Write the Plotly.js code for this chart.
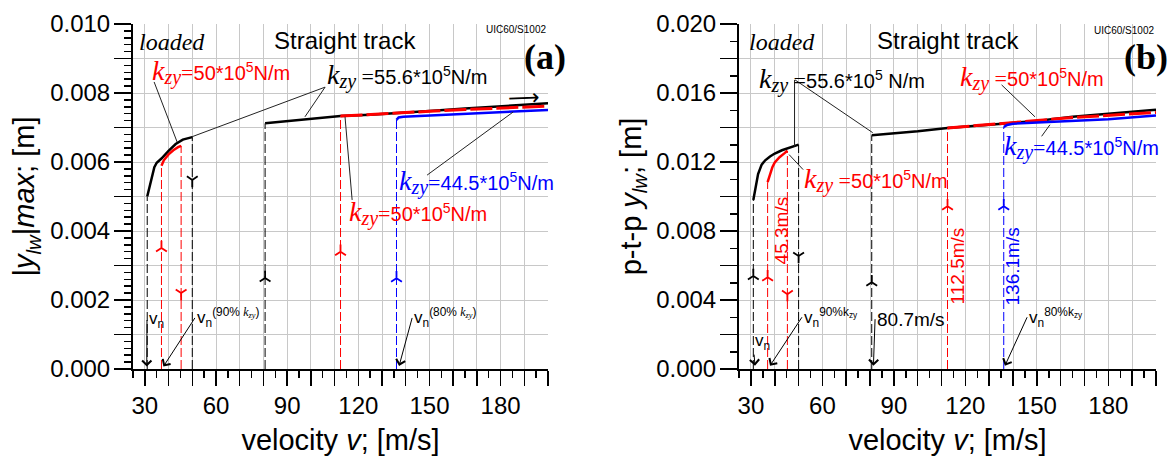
<!DOCTYPE html>
<html><head><meta charset="utf-8">
<script src="https://cdn.plot.ly/plotly-3.0.1.min.js"></script>
<style>body{margin:0;padding:0;background:#fff}#chart{width:1173px;height:462px}</style>
</head><body><div id="chart"></div>
<script>
// ---------- ticks: grid/tick positions and labelled ticks ----------
const xGridVals  = [30,40,50,60,70,80,90,100,110,120,130,140,150,160,170,180,190,200];
const xLabelVals = [30,60,90,120,150,180];
const xLabelText = ['30','60','90','120','150','180'];
const yAGridVals  = [0,0.001,0.002,0.003,0.004,0.005,0.006,0.007,0.008,0.009,0.010];
const yALabelVals = [0,0.002,0.004,0.006,0.008,0.010];
const yALabelText = ['0.000','0.002','0.004','0.006','0.008','0.010'];
const yBGridVals  = [0,0.002,0.004,0.006,0.008,0.010,0.012,0.014,0.016,0.018,0.020];
const yBLabelVals = [0,0.004,0.008,0.012,0.016,0.020];
const yBLabelText = ['0.000','0.004','0.008','0.012','0.016','0.020'];

// ---------- panel (a): |y_lw|max ----------
const vA_black1 = [31, 32, 33, 34, 35, 37, 40, 43, 46, 50];
const yA_black1 = [0.0050, 0.0053, 0.0056, 0.00585, 0.00598, 0.0061, 0.00632, 0.00652, 0.00665, 0.00672];
const vA_red1   = [37, 38, 40, 42, 44, 45.3];
const yA_red1   = [0.00589, 0.00605, 0.00622, 0.00634, 0.00643, 0.00647];
const vA_black2 = [80.7, 90, 100, 112.5, 125, 136.1, 150, 165, 180, 200];
const yA_black2 = [0.00712, 0.00718, 0.00724, 0.00733, 0.00737, 0.00741, 0.00748, 0.00755, 0.00761, 0.0077];
const vA_red2   = [112.5, 125, 136.1, 150, 165, 180, 200];
const yA_red2   = [0.00733, 0.00737, 0.00741, 0.00747, 0.00752, 0.00757, 0.00762];
const vA_blue   = [136.1, 137, 139, 145, 160, 180, 200];
const yA_blue   = [0.00722, 0.00729, 0.00731, 0.00733, 0.00738, 0.00744, 0.00751];

// ---------- panel (b): p-t-p y_lw ----------
const vB_black1 = [31, 32, 33, 34.5, 36, 38, 40, 43, 46, 50];
const yB_black1 = [0.0098, 0.0106, 0.0113, 0.01185, 0.0121, 0.01232, 0.01249, 0.01268, 0.01282, 0.01301];
const vB_red1   = [37, 38, 39, 40, 42, 44, 45.3];
const yB_red1   = [0.01083, 0.0113, 0.0117, 0.01198, 0.01228, 0.0125, 0.01265];
const vB_black2 = [80.7, 90, 100, 112.5, 125, 136.1, 150, 165, 180, 200];
const yB_black2 = [0.01355, 0.01365, 0.01378, 0.01397, 0.0141, 0.01422, 0.01438, 0.01463, 0.0148, 0.01503];
const vB_red2   = [112.5, 125, 136.1, 150, 165, 180, 200];
const yB_red2   = [0.01397, 0.0141, 0.01422, 0.0144, 0.01458, 0.01472, 0.01487];
const vB_blue   = [136.1, 137.5, 140, 150, 165, 180, 200];
const yB_blue   = [0.01403, 0.01415, 0.01422, 0.01428, 0.01437, 0.01448, 0.0147];

// ---------- critical speeds (vertical dashed markers) ----------
const vCrit    = [31, 37, 45.3, 50, 80.7, 112.5, 136.1];
const critTopA = [0.0050, 0.00589, 0.00647, 0.00672, 0.00712, 0.00733, 0.00722];
const critTopB = [0.0098, 0.01083, 0.01265, 0.01301, 0.01355, 0.01397, 0.01403];

// ---------- styles ----------
const RED = '#ff0000', BLUE = '#0000ff', BLK = '#000000';
const critColor = [BLK, RED, RED, BLK, BLK, RED, BLUE];
const SANS = 'Liberation Sans, Arial, sans-serif';
const SERIF = 'Liberation Serif, Times New Roman, serif';

function line(v, y, color, width, dash, xa, ya) {
  return {x: v, y: y, xaxis: xa, yaxis: ya, mode: 'lines', type: 'scatter',
          line: {color: color, width: width, dash: dash || 'solid'}, hoverinfo: 'skip'};
}
const traces = [];
// chevrons: [critical-speed index, tip height, 'up'|'down']
function panel(xa, ya, oxa, oya, d, tops, chevrons) {
  vCrit.forEach((v, i) => traces.push(line([v, v], [0, tops[i]], critColor[i], 1, '9px,3px', oxa, oya)));
  traces.push(line(d.b1v, d.b1y, BLK, 2.5, null, xa, ya));
  traces.push(line(d.r1v, d.r1y, RED, 2.5, null, xa, ya));
  traces.push(line(d.b2v, d.b2y, BLK, 2.5, null, xa, ya));
  traces.push(line(d.r2v, d.r2y, RED, 3, '22px,4px', xa, ya));
  traces.push(line(d.blv, d.bly, BLUE, 2.5, null, xa, ya));
  traces.push({x: chevrons.map(c => vCrit[c[0]]), y: chevrons.map(c => c[1]), xaxis: oxa, yaxis: oya,
    type: 'scatter', mode: 'markers', hoverinfo: 'skip', cliponaxis: false,
    marker: {symbol: chevrons.map(c => c[2] === 'up' ? 'y-up' : 'y-down'), size: 9,
             color: chevrons.map(c => critColor[c[0]]),
             line: {color: chevrons.map(c => critColor[c[0]]), width: 1.8}}});
}
panel('x', 'y', 'x3', 'y3', {b1v: vA_black1, b1y: yA_black1, r1v: vA_red1, r1y: yA_red1, b2v: vA_black2, b2y: yA_black2,
                 r2v: vA_red2, r2y: yA_red2, blv: vA_blue, bly: yA_blue}, critTopA,
      [[1, 0.00351, 'up'], [2, 0.0022, 'down'], [3, 0.00548, 'down'], [4, 0.00264, 'up'], [5, 0.0034, 'up'], [6, 0.00263, 'up']]);
panel('x2', 'y2', 'x4', 'y4', {b1v: vB_black1, b1y: yB_black1, r1v: vB_red1, r1y: yB_red1, b2v: vB_black2, b2y: yB_black2,
                 r2v: vB_red2, r2y: yB_red2, blv: vB_blue, bly: yB_blue}, critTopB,
      [[0, 0.00539, 'up'], [1, 0.00532, 'up'], [2, 0.00434, 'down'], [3, 0.00655, 'down'], [4, 0.00503, 'up'], [5, 0.00944, 'up'], [6, 0.00944, 'up']]);

// ---------- axes ----------
const common = {ticks: 'outside', tickwidth: 1.5, zeroline: false, automargin: false, fixedrange: true,
                tickfont: {size: 24, family: SANS, color: BLK}};
function xGrid(domain, anchor) {   // unlabelled axis: line, grid, long + short ticks
  return Object.assign({}, common, {domain: domain, anchor: anchor, range: [25, 200], tickmode: 'array', tickvals: xGridVals,
    showticklabels: false, ticklen: 15, tickcolor: BLK, showgrid: true, gridcolor: '#c8c8c8', gridwidth: 1,
    showline: true, linecolor: BLK, linewidth: 2,
    minor: {tickmode: 'linear', tick0: 0, dtick: 5, ticks: 'outside', ticklen: 7, tickwidth: 1.5, tickcolor: BLK, showgrid: false}});
}
function xLab(over, anchor) {      // labelled overlay axis with title
  return Object.assign({}, common, {overlaying: over, anchor: anchor, range: [25, 200], tickmode: 'array',
    tickvals: xLabelVals, ticktext: xLabelText, ticklen: 15, tickcolor: 'rgba(0,0,0,0)', showgrid: false, showline: false,
    title: {text: 'velocity <i>v</i>; [m/s]', font: {size: 29, family: SANS, color: BLK}, standoff: 11}});
}
function yGrid(anchor, top, vals, mdt) {
  return Object.assign({}, common, {domain: [0, 1], anchor: anchor, range: [0, top], tickmode: 'array', tickvals: vals,
    showticklabels: false, ticklen: 17, tickcolor: BLK, showgrid: true, gridcolor: '#c8c8c8', gridwidth: 1,
    showline: true, linecolor: BLK, linewidth: 2,
    minor: {tickmode: 'linear', tick0: 0, dtick: mdt, ticks: 'outside', ticklen: 7, tickwidth: 1.5, tickcolor: BLK, showgrid: false}});
}
function yLab(over, anchor, top, vals, txt, title) {
  return Object.assign({}, common, {overlaying: over, anchor: anchor, range: [0, top], tickmode: 'array',
    tickvals: vals, ticktext: txt, ticklen: 17, tickcolor: 'rgba(0,0,0,0)', showgrid: false, showline: false,
    title: {text: title, font: {size: 29, family: SANS, color: BLK}, standoff: 6}});
}

// ---------- annotation helpers ----------
function kzy(val, sp) {
  return "<span style=\"font-family:'Liberation Serif';font-style:italic;font-size:28px\">k</span>" +
         "<sub><span style=\"font-family:'Liberation Serif';font-style:italic;font-size:20px\">zy</span></sub>" +
         "<span style=\"font-family:'Liberation Serif';font-size:22px\">" + sp + "=</span>" + val;
}
const ann = [];
function txt(xa, ya, x, y, text, color, size, opts) {
  ann.push(Object.assign({xref: xa, yref: ya, x: x, y: y, text: text, showarrow: false, xanchor: 'left', yanchor: 'middle',
    font: {size: size, color: color, family: SANS}}, opts || {}));
}
// label with an arrow: text box left edge at (tx,ty), arrow head at (hx,hy)
function callout(xa, ya, tx, ty, hx, hy, text, size) {
  ann.push({xref: xa, yref: ya, axref: xa, ayref: ya, x: hx, y: hy, ax: tx, ay: ty, text: text, showarrow: true,
    xanchor: 'left', yanchor: 'middle', arrowhead: 4, arrowsize: 1.8, arrowwidth: 1, arrowcolor: BLK,
    font: {size: size, color: BLK, family: SANS}});
}
const shapes = [];
function seg(xa, ya, x0, y0, x1, y1) {
  shapes.push({type: 'line', xref: xa, yref: ya, x0: x0, y0: y0, x1: x1, y1: y1, line: {color: '#222', width: 1}});
}
const SUPK = (p) => "v<sub>n</sub><sup>(" + p + " <span style=\"font-family:'Liberation Serif';font-style:italic\">k<sub>zy</sub></span>)</sup>";

// panel (a) texts
txt('x', 'y', 25.8, 0.0102, 'freight car', BLK, 10);
txt('x', 'y', 26.7, 0.00948, '<i>loaded</i>', BLK, 24, {font: {size: 24, color: BLK, family: SERIF}});
txt('x', 'y', 83.6, 0.00951, 'Straight track', BLK, 24);
txt('x', 'y', 200, 0.00983, 'UIC60/S1002', BLK, 10, {xanchor: 'right'});
txt('x', 'y', 32.2, 0.00861, kzy('50*10<sup>5</sup>N/m', ''), RED, 20);
txt('x', 'y', 106, 0.00849, kzy('55.6*10<sup>5</sup>N/m', ' '), BLK, 20);
txt('x', 'y', 115.3, 0.00452, kzy('50*10<sup>5</sup>N/m', ''), RED, 20);
txt('x', 'y', 136.3, 0.00542, kzy('44.5*10<sup>5</sup>N/m', ''), BLUE, 20);
txt('x', 'y', 182.0, 0.00788, '\u27F6', BLK, 22, {textangle: -2, font: {size: 22, color: BLK, family: 'DejaVu Sans'}});
callout('x', 'y', 30.9, 0.00142, 30.8, 0.00007, 'v<sub>n</sub>', 17);
callout('x', 'y', 51.1, 0.00148, 37.8, 0.00007, SUPK('90%'), 17);
callout('x', 'y', 142.7, 0.00148, 137.2, 0.00009, SUPK('80%'), 17);
// panel (a) callout lines
seg('x', 'y', 33.9, 0.00832, 43.6, 0.00658);
seg('x', 'y', 106, 0.00817, 49.8, 0.00673);
seg('x', 'y', 106, 0.00817, 97.5, 0.00731);
seg('x', 'y', 117.4, 0.0049, 114.4, 0.00731);
seg('x', 'y', 149, 0.00562, 185.3, 0.00745);

// panel (b) texts
txt('x2', 'y2', 26.3, 0.0204, 'freight car', BLK, 10);
txt('x2', 'y2', 28.2, 0.01896, '<i>loaded</i>', BLK, 24, {font: {size: 24, color: BLK, family: SERIF}});
txt('x2', 'y2', 82.1, 0.01902, 'Straight track', BLK, 24);
txt('x2', 'y2', 200, 0.01965, 'UIC60/S1002', BLK, 10, {xanchor: 'right'});
txt('x2', 'y2', 32.6, 0.01676, kzy('55.6*10<sup>5</sup> N/m', ' '), BLK, 20);
txt('x2', 'y2', 51.4, 0.01098, kzy('50*10<sup>5</sup>N/m', ' '), RED, 20);
txt('x2', 'y2', 116.9, 0.01688, kzy('50*10<sup>5</sup>N/m', ' '), RED, 20);
txt('x2', 'y2', 135.4, 0.01289, kzy('44.5*10<sup>5</sup>N/m', ''), BLUE, 20);
txt('x2', 'y2', 43.0, 0.00803, '45.3m/s', RED, 19, {textangle: -90, xanchor: 'center'});
txt('x2', 'y2', 116.5, 0.00595, '112.5m/s', RED, 19, {textangle: -90, xanchor: 'center'});
txt('x2', 'y2', 139.6, 0.00595, '136.1m/s', BLUE, 19, {textangle: -90, xanchor: 'center'});
callout('x2', 'y2', 82.1, 0.00289, 81.4, 0.00019, '80.7m/s', 19);
callout('x2', 'y2', 30.9, 0.00156, 31.7, 0.00019, 'v<sub>n</sub>', 17);
callout('x2', 'y2', 51.4, 0.003, 38, 0.00019, 'v<sub>n</sub><sup>90%k<sub>zy</sub></sup>', 17);
callout('x2', 'y2', 145.9, 0.003, 136.6, 0.00019, 'v<sub>n</sub><sup>80%k<sub>zy</sub></sup>', 17);
// panel (b) callout lines
seg('x2', 'y2', 48.3, 0.01676, 48.3, 0.0129);
seg('x2', 'y2', 48.5, 0.01676, 81.1, 0.0137);
seg('x2', 'y2', 51.9, 0.01156, 46, 0.01243);
seg('x2', 'y2', 135.2, 0.01647, 149.2, 0.01462);
seg('x2', 'y2', 152, 0.01349, 155.5, 0.01416);

// panel labels
ann.push({xref: 'paper', yref: 'paper', x: 0.4252, y: 0.904, text: '<b>(a)</b>', showarrow: false,
  xanchor: 'right', yanchor: 'middle', font: {size: 36, family: SERIF, color: BLK}});
ann.push({xref: 'paper', yref: 'paper', x: 1.0137, y: 0.904, text: '<b>(b)</b>', showarrow: false,
  xanchor: 'right', yanchor: 'middle', font: {size: 36, family: SERIF, color: BLK}});

const layout = {
  width: 1173, height: 462,
  margin: {l: 133, r: 17, t: 24, b: 93},
  paper_bgcolor: '#fff', plot_bgcolor: '#fff', showlegend: false,
  font: {family: SANS, color: BLK, size: 20},
  xaxis: xGrid([0, 0.4057], 'y'),
  yaxis: yGrid('x', 0.010, yAGridVals, 0.0002),
  xaxis2: xGrid([0.5924, 1.0], 'y2'),
  yaxis2: yGrid('x2', 0.020, yBGridVals, 0.001),
  xaxis3: xLab('x', 'y3'),
  yaxis3: yLab('y', 'x3', 0.010, yALabelVals, yALabelText, '|<i>y</i><sub><i>lw</i></sub>|<i>max</i>; [m]'),
  xaxis4: xLab('x2', 'y4'),
  yaxis4: yLab('y2', 'x4', 0.020, yBLabelVals, yBLabelText, 'p-t-p <i>y</i><sub><i>lw</i></sub>; [m]'),
  annotations: ann,
  shapes: shapes
};
Plotly.newPlot('chart', traces, layout, {staticPlot: true, displayModeBar: false});
</script></body></html>
